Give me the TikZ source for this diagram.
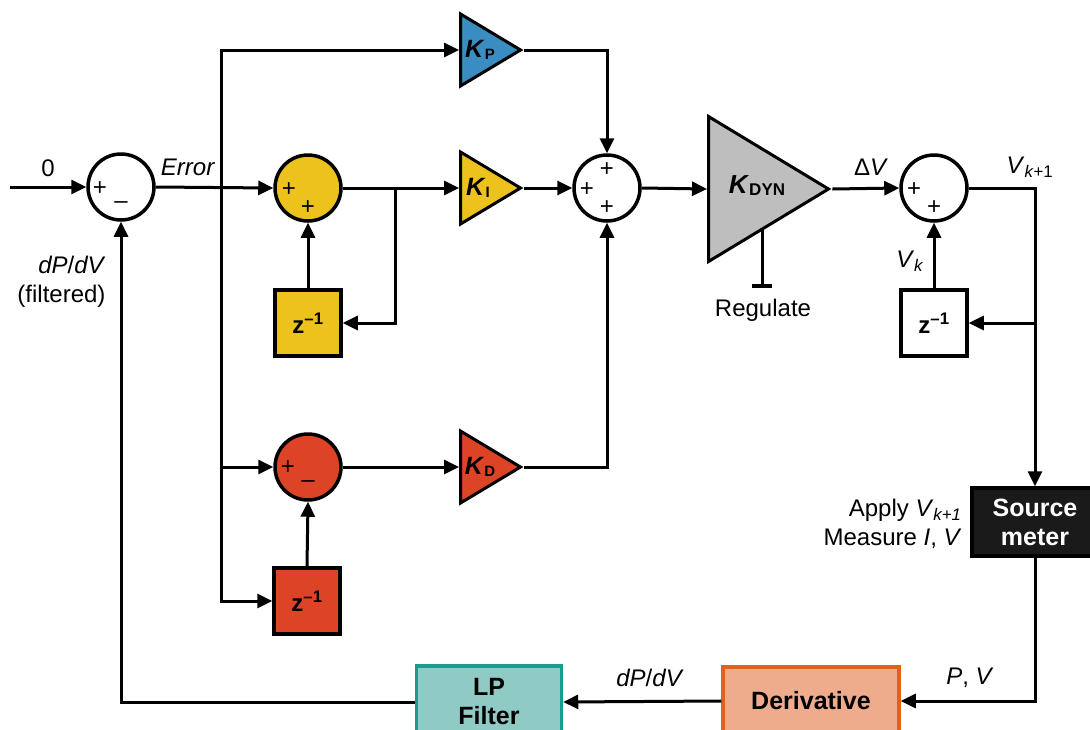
\documentclass[tikz,border=0pt]{standalone}
\usepackage{fontspec}
\setmainfont{Liberation Sans}
\usetikzlibrary{arrows.meta,shapes.geometric,calc}
\definecolor{kpblue}{HTML}{3A8DC1}
\definecolor{kiyellow}{HTML}{EEC21C}
\definecolor{kdred}{HTML}{DD4426}
\definecolor{kdyngray}{HTML}{BEBEBE}
\definecolor{lpfill}{HTML}{8FCAC4}
\definecolor{lpborder}{HTML}{1B9A8D}
\definecolor{derivfill}{HTML}{EFAC8C}
\definecolor{derivborder}{HTML}{E0621F}
\definecolor{meterblack}{HTML}{1A1A1A}
\begin{document}
\begin{tikzpicture}[x=1pt,y=-1pt,line width=3pt,
>={Triangle[length=15pt,width=14pt]},
sumnode/.style={circle,draw,line width=3.5pt,minimum size=66pt,inner sep=0pt,fill=white},
gainnode/.style={isosceles triangle,isosceles triangle stretches,draw,line width=3pt,minimum height=60pt,minimum width=72pt,inner sep=0pt,anchor=west},
gaintext/.style={font=\fontsize{25}{27}\selectfont,inner sep=0pt},
delaynode/.style={rectangle,draw,line width=3.5pt,minimum size=66pt,inner sep=0pt,font=\fontsize{24}{26}\selectfont\bfseries},
blocknode/.style={rectangle,draw,line width=3.5pt,inner sep=0pt,align=center,font=\fontsize{25}{29}\selectfont\bfseries},
signtext/.style={font=\fontsize{24}{26}\selectfont,inner sep=0pt},
labeltext/.style={font=\fontsize{24}{29}\selectfont,inner sep=0pt}]
\newcommand{\mygain}[2]{%
\textbf{\textit{K}}\raisebox{-0.08em}{\fontsize{#2}{#2}\selectfont\textbf{#1}}%
}
\newcommand{\mydelay}{z\textsuperscript{–1}}
%Picture frame, the boxes at the bottom are cut off
\useasboundingbox (0,0) rectangle (1090,729);
\clip (0,0) rectangle (1090,729);
%Summing junctions
\node [sumnode] (sumErr) at (121,187) {};
\node [sumnode,fill=kiyellow] (sumI) at (308,188) {};
\node [sumnode] (sumPID) at (607,188) {};
\node [sumnode] (sumV) at (934,188) {};
\node [sumnode,fill=kdred] (sumD) at (308,467) {};
%Signs in the junctions
\node [signtext] (sErrA) at ($(sumErr)+(-21,2)$) {+};
\node [signtext] (sErrB) at ($(sumErr)+(0,18)$) {–};
\node [signtext] (sIA) at ($(sumI)+(-19,2)$) {+};
\node [signtext] (sIB) at ($(sumI)+(0,20)$) {+};
\node [signtext] (sPIDA) at ($(sumPID)+(0,-18)$) {+};
\node [signtext] (sPIDB) at ($(sumPID)+(-20,2)$) {+};
\node [signtext] (sPIDC) at ($(sumPID)+(0,20)$) {+};
\node [signtext] (sVA) at ($(sumV)+(-20,2)$) {+};
\node [signtext] (sVB) at ($(sumV)+(0,20)$) {+};
\node [signtext] (sDA) at ($(sumD)+(-20,1)$) {+};
\node [signtext] (sDB) at ($(sumD)+(0,17)$) {–};
%Gains
\node [gainnode,fill=kpblue] (kp) at (459,50) {};
\node [gainnode,fill=kiyellow] (ki) at (459,188) {};
\node [gainnode,fill=kdred] (kd) at (459,467) {};
\node [gainnode,fill=kdyngray,minimum height=120pt,minimum width=145pt] (kdyn) at (707,189) {};
\node [gaintext] (kpText) at (480,50) {\mygain{P}{15}};
\node [gaintext] (kiText) at (478,188) {\mygain{I}{15}};
\node [gaintext] (kdText) at (480,467) {\mygain{D}{15}};
\node [gaintext,font=\fontsize{26}{28}\selectfont] (kdynText) at (757,186) {\mygain{DYN}{17}};
%Delays
\node [delaynode,fill=kiyellow] (delayI) at (308,323) {\mydelay};
\node [delaynode,fill=white] (delayV) at (934,323) {\mydelay};
\node [delaynode,fill=kdred] (delayD) at (307,601) {\mydelay};
%Blocks of the measurement loop
\node [blocknode,fill=meterblack,text=white,minimum width=126pt,minimum height=68pt] (meter) at (1035,522) {Source\\meter};
\node [blocknode,draw=derivborder,fill=derivfill,minimum width=176pt,minimum height=68pt] (deriv) at (811,701) {Derivative};
\node [blocknode,draw=lpborder,fill=lpfill,minimum width=145pt,minimum height=72pt] (lp) at (489,702) {LP\\Filter};
%Branch points
\coordinate (input) at (10,187);
\coordinate (errSplit) at (221,187);
\coordinate (dSplit) at (221,467);
\coordinate (iSplit) at (395,188);
\coordinate (vSplit) at (1035,323);
%Connectors
\draw [->] (input) -- (sumErr.west);
\draw [->] (sumErr.east) -- (sumI.west);
\draw [->] (errSplit) |- (kp.west);
\draw [->] (errSplit) |- (delayD.west);
\draw [->] (dSplit) -- (sumD.west);
\draw [->] (sumI.east) -- (ki.west);
\draw [->] (iSplit) |- (delayI.east);
\draw [->] (delayI.north) -- (sumI.south);
\draw [->] (sumD.east) -- (kd.west);
\draw [->] (delayD.north) -- (sumD.south);
\draw [->] (kp.east) -| (sumPID.north);
\draw [->] (ki.east) -- (sumPID.west);
\draw [->] (kd.east) -| (sumPID.south);
\draw [->] (sumPID.east) -- (kdyn.west);
\draw [->] (kdyn.east) -- (sumV.west);
\draw [->] (sumV.east) -| (meter.north);
\draw [->] (vSplit) -- (delayV.east);
\draw [->] (delayV.north) -- (sumV.south);
\draw [->] (meter.south) |- (deriv.east);
\draw [->] (deriv.west) -- (lp.east);
\draw [->] (lp.west) -| (sumErr.south);
%Regulate input of the dynamic gain
\coordinate (regTop) at (762,229);
\coordinate (regEnd) at (762,288);
\draw [-{Bar[width=20pt,line width=4pt]}] (regTop) -- (regEnd);
%Labels
\node [labeltext] (lblZero) at (48,168) {0};
\node [labeltext] (lblError) at (188,167) {\textit{Error}};
\node [labeltext,align=right,anchor=north east] (lblFb) at (107,255) {\textit{dP}/\textit{dV}\\(filtered)};
\node [labeltext] (lblReg) at (763,310) {Regulate};
\node [labeltext] (lblDV) at (871,167) {Δ\textit{V}};
\node [labeltext] (lblVnext) at (1030,167) {\textit{V}\textsubscript{\textit{k}+1}};
\node [labeltext] (lblVk) at (910,261) {\textit{V}\textsubscript{\textit{k}}};
\node [labeltext,align=right,anchor=east] (lblApply) at (963,524) {Apply \textit{V}\textsubscript{\textit{k+1}}\\Measure \textit{I}, \textit{V}};
\node [labeltext] (lblPV) at (970,678) {\textit{P}, \textit{V}};
\node [labeltext] (lblDeriv) at (650,678) {\textit{dP}/\textit{dV}};
\end{tikzpicture}
\end{document}
